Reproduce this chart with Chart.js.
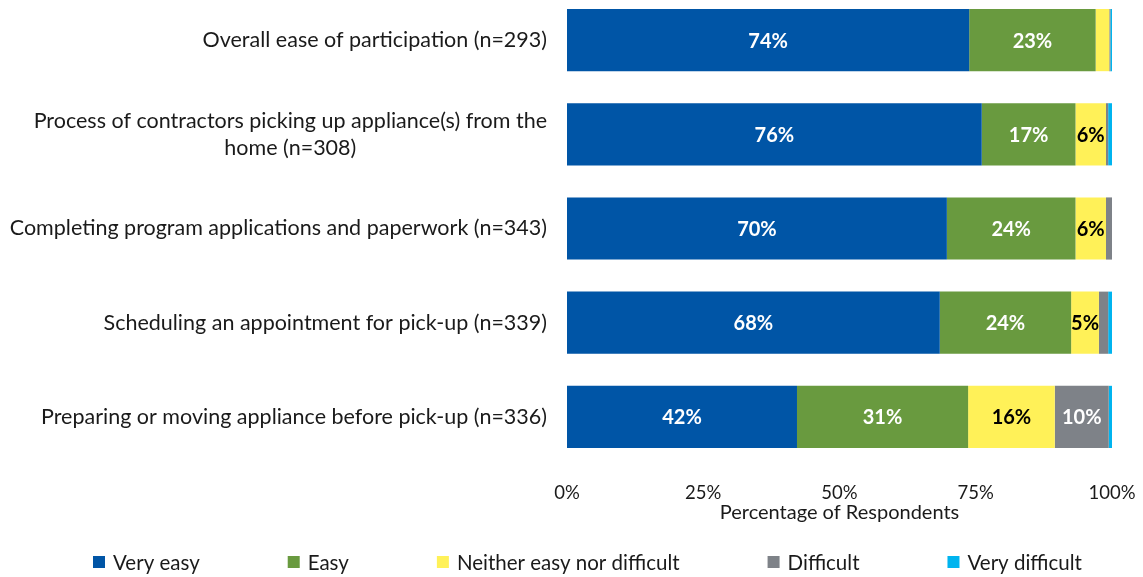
<!DOCTYPE html>
<html>
<head>
<meta charset="utf-8">
<script src="https://cdn.jsdelivr.net/npm/chart.js@4.4.1/dist/chart.umd.min.js"></script>
<style>
  html, body { margin: 0; padding: 0; background: #ffffff; }
  #wrap { width: 1143px; height: 577px; position: relative; overflow: hidden; }
  /* the first band starts slightly above the visible frame */
  #chart { position: absolute; left: 0; top: -7px; }
</style>
</head>
<body>
<div id="wrap"><canvas id="chart" width="1143" height="584"></canvas></div>
<script>
// Survey items (multi-line items are given as arrays of lines)
const categories = [
  'Overall ease of participation (n=293)',
  ['Process of contractors picking up appliance(s) from the', 'home (n=308)'],
  'Completing program applications and paperwork (n=343)',
  'Scheduling an appointment for pick-up (n=339)',
  'Preparing or moving appliance before pick-up (n=336)'
];

const seriesNames = ['Very easy', 'Easy', 'Neither easy nor difficult', 'Difficult', 'Very difficult'];

// Share of respondents (%) per rating
const veryEasy      = [73.8, 76.1, 69.7, 68.4, 42.2];
const easy          = [23.2, 17.2, 23.6, 24.1, 31.4];
const neither       = [2.5, 5.6, 5.6, 5.1, 15.9];
const difficult     = [0.2, 0.4, 1.1, 1.7, 9.9];
const veryDifficult = [0.3, 0.7, 0.0, 0.7, 0.6];

const xTicks = [0, 25, 50, 75, 100];
const axisTitle = 'Percentage of Respondents';

const colors = ['#0055A6', '#699A3F', '#FFF158', '#7E8288', '#00B4EF'];
const labelColors = ['#ffffff', '#ffffff', '#000000', '#ffffff', '#ffffff'];

const FONT = 'Lato, "Open Sans", sans-serif';
const TEXT = '#1a1a1a';

const seriesValues = [veryEasy, easy, neither, difficult, veryDifficult];

const datasets = seriesNames.map((name, i) => ({
  label: name,
  data: seriesValues[i],
  backgroundColor: colors[i],
  borderWidth: 0,
  categoryPercentage: 1.0,
  barPercentage: 0.66
}));

// Category labels: right-aligned block, lines centered within it
const categoryLabels = {
  id: 'categoryLabels',
  afterDraw(chart) {
    const { ctx } = chart;
    const y = chart.scales.y;
    const right = chart.chartArea.left - 20;
    const lineH = 27;
    ctx.save();
    ctx.font = '21.5px ' + FONT;
    ctx.fillStyle = TEXT;
    ctx.textBaseline = 'middle';
    ctx.textAlign = 'center';
    categories.forEach((cat, i) => {
      const lines = Array.isArray(cat) ? cat : [cat];
      const w = Math.max(...lines.map(l => ctx.measureText(l).width));
      const cx = right - w / 2;
      const cy = y.getPixelForValue(i);
      const y0 = cy - (lines.length - 1) * lineH / 2;
      lines.forEach((l, k) => ctx.fillText(l, cx, y0 + k * lineH));
    });
    ctx.restore();
  }
};

// Value labels centered in each segment
const valueLabels = {
  id: 'valueLabels',
  afterDatasetsDraw(chart) {
    const { ctx } = chart;
    ctx.save();
    ctx.font = 'bold 20px ' + FONT;
    ctx.textAlign = 'center';
    ctx.textBaseline = 'middle';
    chart.data.datasets.forEach((ds, di) => {
      const meta = chart.getDatasetMeta(di);
      meta.data.forEach((el, i) => {
        const v = ds.data[i];
        if (Math.round(v) < 5) return;
        ctx.fillStyle = labelColors[di];
        ctx.fillText(Math.round(v) + '%', (el.x + el.base) / 2, el.y + 1);
      });
    });
    ctx.restore();
  }
};

// Legend row under the axis title
const bottomLegend = {
  id: 'bottomLegend',
  afterDraw(chart) {
    const { ctx } = chart;
    const box = 12, gapText = 8, gapItem = 88;
    const cy = 569;
    ctx.save();
    ctx.font = '20.5px ' + FONT;
    ctx.textBaseline = 'middle';
    ctx.textAlign = 'left';
    let x = 93;
    chart.data.datasets.forEach((ds) => {
      ctx.fillStyle = ds.backgroundColor;
      ctx.fillRect(x, cy - box / 2, box, box);
      x += box + gapText;
      ctx.fillStyle = TEXT;
      ctx.fillText(ds.label, x, cy + 1);
      x += ctx.measureText(ds.label).width + gapItem;
    });
    ctx.restore();
  }
};

new Chart(document.getElementById('chart'), {
  type: 'bar',
  data: { labels: categories.map(c => Array.isArray(c) ? c.join(' ') : c), datasets },
  options: {
    indexAxis: 'y',
    responsive: false,
    animation: false,
    layout: { padding: { top: 0, right: 31, left: 0, bottom: 52 } },
    plugins: {
      legend: { display: false },
      tooltip: { enabled: false }
    },
    scales: {
      x: {
        stacked: true,
        min: 0,
        max: 100,
        afterBuildTicks(scale) { scale.ticks = xTicks.map(v => ({ value: v })); },
        afterFit(scale) {
          scale.height = 61;
          scale.paddingLeft = 0;
          scale.paddingRight = 0;
        },
        ticks: {
          callback: v => v + '%',
          color: TEXT,
          font: { family: FONT, size: 18.5 },
          padding: 18,
          maxRotation: 0
        },
        grid: { display: false, drawTicks: false, tickLength: 0 },
        border: { display: false },
        title: {
          display: true,
          text: axisTitle,
          color: TEXT,
          font: { family: FONT, size: 20 },
          padding: { top: 0, bottom: 0 }
        }
      },
      y: {
        stacked: true,
        ticks: { display: false },
        grid: { display: false, drawTicks: false, tickLength: 0 },
        border: { display: false },
        afterFit(scale) {
          scale.width = 567;
          scale.paddingTop = 0;
          scale.paddingBottom = 0;
        }
      }
    }
  },
  plugins: [categoryLabels, valueLabels, bottomLegend]
});
</script>
</body>
</html>
